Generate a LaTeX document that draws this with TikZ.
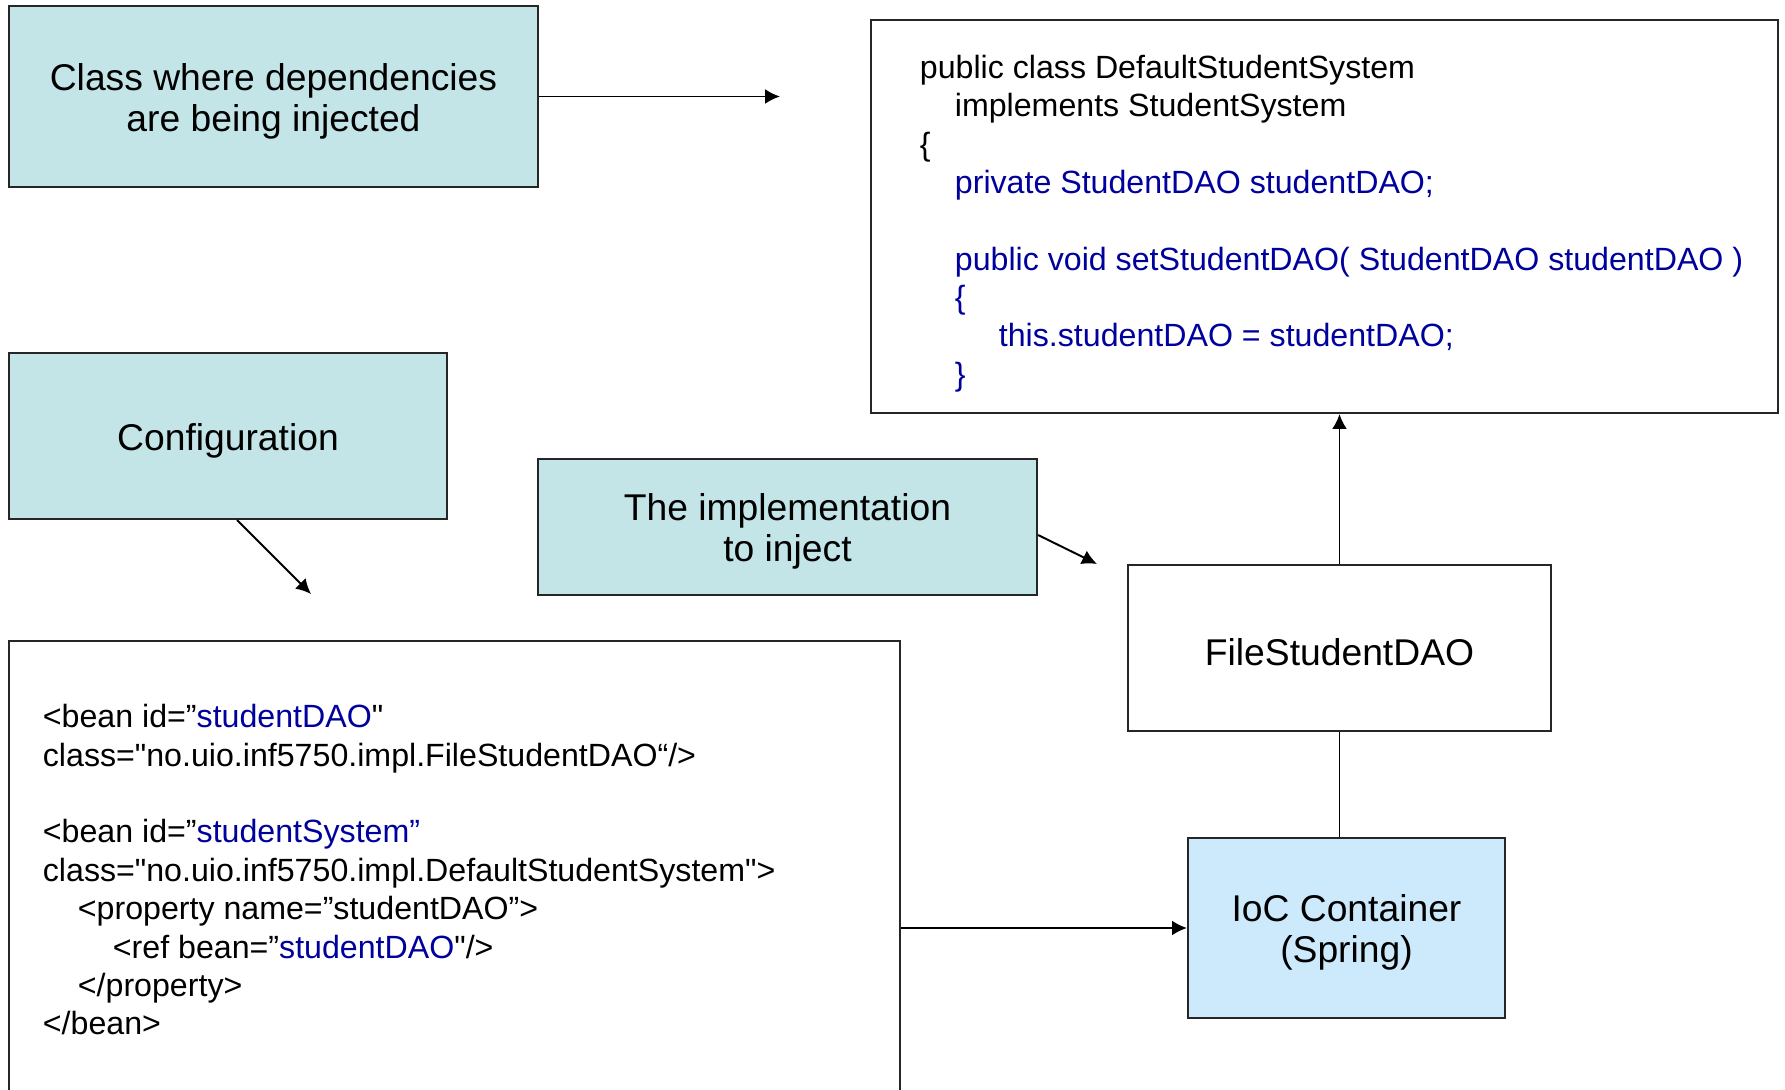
\documentclass[tikz,border=0pt]{standalone}
\usepackage{fontspec}
\setmainfont{Liberation Sans}[Ligatures=TeXOff]
\usepackage{xcolor}
\usetikzlibrary{arrows.meta, positioning}

\definecolor{notefill}{HTML}{C4E5E8}
\definecolor{iocfill}{HTML}{CCEAFB}
\definecolor{codeblue}{HTML}{00009C}
\newcommand{\lblfont}{\fontsize{21.2pt}{23.3pt}\selectfont}
\newcommand{\codefont}{\fontsize{18.3pt}{21.85pt}\selectfont}
\newcommand{\ind}{\hspace*{0.7cm}}

\begin{document}
\begin{tikzpicture}[>={Latex[length=8.5pt, width=8.5pt]}, line width=1.1pt,
    plain/.style={draw=black!85, line width=1.2pt, inner sep=0pt, align=center, font=\lblfont, text height=20.4pt},
    twoline/.style={text height=43.7pt},
    note/.style={plain, fill=notefill},
    code/.style={inner sep=0pt, align=left, font=\codefont, anchor=north west}]
    \useasboundingbox (0,0) rectangle (35.7,21.78);
    \clip (0,0) rectangle (35.7,21.78);

    % 1. Hộp chú thích màu xanh
    \node[note, twoline, minimum width=10.58cm, minimum height=3.62cm] (cls) at (5.47,19.85) {Class where dependencies\\are being injected};
    \node[note, minimum width=8.76cm, minimum height=3.32cm] (cfg) at (4.56,13.06) {Configuration};
    \node[note, twoline, minimum width=9.98cm, minimum height=2.72cm] (impl) at (15.75,11.24) {The implementation\\to inject};

    % 2. Lớp Java
    \node[plain, minimum width=18.14cm, minimum height=7.86cm] (java) at (26.49,17.45) {};
    \node[code] (javacode) at ([xshift=0.98cm, yshift=-0.7cm]java.north west) {%
        public class DefaultStudentSystem\\
        \ind implements StudentSystem\\
        \{\\
        \color{codeblue}\ind private StudentDAO studentDAO;\\[21.85pt]
        \color{codeblue}\ind public void setStudentDAO( StudentDAO studentDAO )\\
        \color{codeblue}\ind \{\\
        \color{codeblue}\ind\hspace*{0.88cm}this.studentDAO = studentDAO;\\
        \color{codeblue}\ind \}};

    % 3. Cấu hình XML
    \node[plain, minimum width=17.82cm, minimum height=9.16cm] (xml) at (9.09,4.38) {};
    \node[code] (xmlcode) at ([xshift=0.68cm, yshift=-1.27cm]xml.north west) {%
        <bean id=”\textcolor{codeblue}{studentDAO}"\\
        class="no.uio.inf5750.impl.FileStudentDAO“/>\\[21.85pt]
        <bean id=”\textcolor{codeblue}{studentSystem”}\\
        class="no.uio.inf5750.impl.DefaultStudentSystem">\\
        \ind <property name=”studentDAO”>\\
        \ind\ind <ref bean=”\textcolor{codeblue}{studentDAO}"/>\\
        \ind </property>\\
        </bean>};

    % 4. FileStudentDAO và IoC Container
    \node[plain, minimum width=8.46cm, minimum height=3.32cm] (fsd) at (26.79,8.82) {FileStudentDAO};
    \node[plain, twoline, fill=iocfill, minimum width=6.34cm, minimum height=3.6cm] (ioc) at (26.93,3.22) {IoC Container\\(Spring)};

    % 5. Mũi tên
    \coordinate (clsend) at (15.6,19.85);
    \coordinate (cfgend) at (6.22,9.9);
    \coordinate (implend) at (21.94,10.5);
    \draw[->] (cls.east) -- (clsend);
    \draw[->] ([xshift=0.18cm]cfg.south) -- (cfgend);
    \draw[->] ([yshift=-0.16cm]impl.east) -- (implend);
    \draw[->] (fsd.north) -- (fsd.north |- java.south);
    \draw (fsd.south) -- (fsd.south |- ioc.north);
    \draw[->] (xml.east |- ioc.west) -- (ioc.west);
\end{tikzpicture}
\end{document}
